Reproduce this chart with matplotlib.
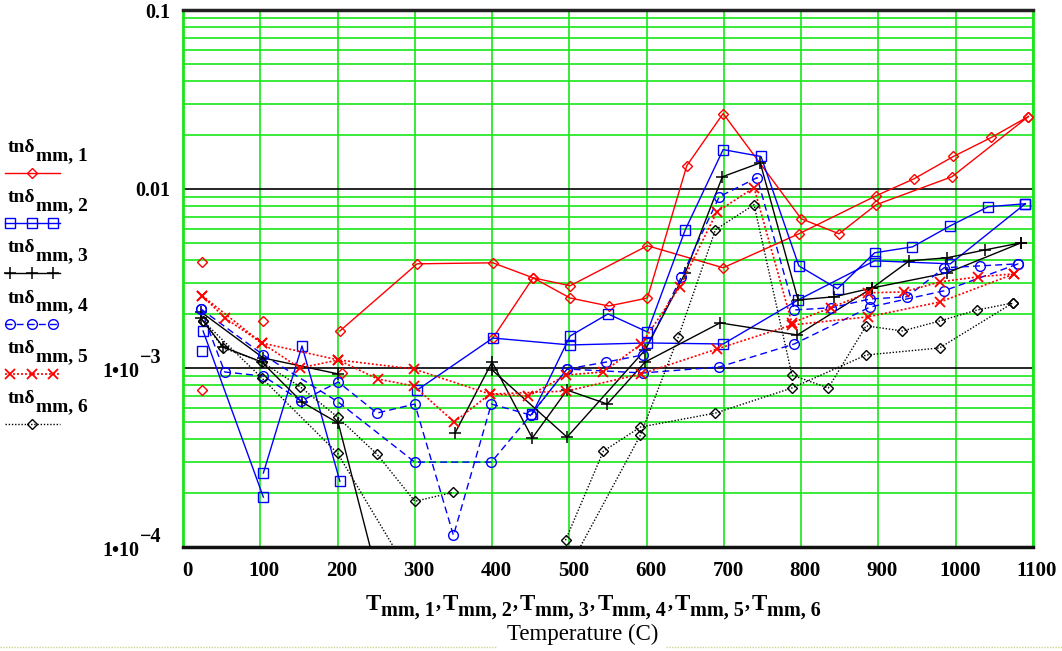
import numpy as np
import matplotlib
matplotlib.use('Agg')
import matplotlib.pyplot as plt
import matplotlib.transforms as mtransforms
from matplotlib.ticker import FixedLocator, NullFormatter

nan = np.nan

# ---------------- data (temperature in C, tan delta in units of 1e-3) -------------
T1 = [25, nan, 25, nan, 104, nan, 206, nan,
      203, 303, 401, 453, 501, 601, 699, 797, 897, 946, 997, 1046, 1094, nan,
      401, 453, 501, 551, 601, 652, 699, 800, 849, 897, 995, 1094]
D1 = [3.92, nan, 0.75, nan, 1.83, nan, 0.94, nan,
      1.61, 3.82, 3.87, 3.19, 2.88, 4.82, 3.63, 5.62, 9.17, 11.4, 15.2, 19.4, 25.4, nan,
      1.47, 3.19, 2.46, 2.22, 2.46, 13.5, 26.4, 6.82, 5.62, 8.17, 11.7, 25.4]

T2 = [26, 104, nan, 104, 154, 203, nan, 25, nan,
      303, 401, 501, 601, 699, 796, 895, 993, 1090, nan,
      452, 501, 550, 601, 650, 699, 748, 797, 847, 895, 944, 993, 1042, 1090]
D2 = [1.61, 0.190, nan, 0.259, 1.328, 0.233, nan, 1.245, nan,
      0.753, 1.47, 1.345, 1.38, 1.362, 2.40, 3.97, 3.82, 8.27, nan,
      0.553, 1.51, 2.005, 1.59, 5.92, 16.6, 15.2, 3.72, 2.77, 4.40, 4.75, 6.23, 7.96, 8.27]

T3 = [23, 104, 201, nan,
      23, 52, 102, 154, 201, 250, nan,
      352, 400, 452, 497, 549, 598, 695, 795, 892, 989, 1085, nan,
      400, 497, 598, 650, 698, 747, 796, 843, 892, 940, 989, 1038, 1085]
D3 = [2.06, 1.137, 0.926, nan,
      1.905, 1.311, 1.08, 0.645, 0.492, 0.074, nan,
      0.433, 1.08, 0.406, 0.753, 0.629, 1.08, 1.786, 1.53, 2.80, 3.40, 5.01, nan,
      0.975, 0.411, 1.26, 3.40, 11.7, 14.0, 2.40, 2.50, 2.80, 3.97, 4.13, 4.57, 5.01]

T4 = [23, 54, 104, 153, 201, 251, 300, 350, 399, 450, 497, 548, 595, 645, 694, 743,
      791, 839, 889, 937, 985, 1032, 1081, nan,
      23, 104, 201, 300, 399, 450, 497, 595, 694, 791, 889, 985, 1081]
D4 = [2.14, 0.950, 0.902, 0.654, 0.835, 0.560, 0.629, 0.116, 0.629, 0.546, 0.987, 1.08,
      1.182, 3.23, 9.06, 11.57, 2.11, 2.17, 2.43, 2.50, 3.63, 3.72, 3.82, nan,
      2.14, 1.182, 0.645, 0.298, 0.298, 0.546, 0.987, 0.938, 1.013, 1.362, 2.19, 2.70, 3.82]

T5 = [25, 54, 102, 151, 201, 252, 299, 351, 397, 447, 496, 544, 593, 643, 691, 739,
      788, 838, 886, 933, 980, 1029, 1076, nan,
      25, 102, 201, 299, 397, 496, 593, 691, 788, 886, 980, 1076]
D5 = [2.53, 1.905, 1.38, 1.0, 1.109, 0.868, 0.793, 0.499, 0.715, 0.697, 0.914, 0.950,
      1.362, 2.84, 7.46, 10.17, 1.786, 2.17, 2.63, 2.66, 3.03, 3.23, 3.36, nan,
      2.53, 1.38, 1.109, 0.987, 0.715, 0.743, 0.926, 1.277, 1.74, 1.93, 2.34, 3.36]

T6 = [26, 52, 102, 152, 200, 251, 300, 350, nan,
      26, 102, 200, 300, nan,
      495, 544, 592, 689, 788, 884, 979, 1074, nan,
      495, 592, 641, 689, 739, 788, 835, 884, 931, 979, 1028, 1074]
D6 = [1.83, 1.294, 1.08, 0.783, 0.532, 0.330, 0.180, 0.202, nan,
      1.83, 0.879, 0.334, 0.0634, nan,
      0.109, 0.343, 0.468, 0.560, 0.773, 1.182, 1.294, 2.31, nan,
      0.0704, 0.422, 1.49, 5.92, 8.17, 0.914, 0.773, 1.72, 1.61, 1.83, 2.11, 2.31]

UNIT = 1e-3
x_ticks = [0, 100, 200, 300, 400, 500, 600, 700, 800, 900, 1000, 1100]
y_ticks = [1e-4, 1e-3, 1e-2, 1e-1]
y_tick_labels = ['', '', '0.01', '0.1']
y_exp_labels = [('1\u202210', '\u22124'), ('1\u202210', '\u22123')]
legend_subs = ['mm, 1', 'mm, 2', 'mm, 3', 'mm, 4', 'mm, 5', 'mm, 6']
x_label_subs = ['mm, 1', 'mm, 2', 'mm, 3', 'mm, 4', 'mm, 5', 'mm, 6']

# ---------------- style ----------------
SERIF = 'Liberation Serif'
GREEN = '#19e619'

styles = [
    dict(color='#ff0000', ls='-', lw=1.0, marker='D', ms=4.8, mew=1.0),
    dict(color='#0000ff', ls='-', lw=1.0, marker='s', ms=7.0, mew=1.0),
    dict(color='#000000', ls='-', lw=1.0, marker='+', ms=9.0, mew=1.1),
    dict(color='#0000ff', ls=(0, (5, 3)), lw=1.0, marker='o', ms=7.0, mew=1.0),
    dict(color='#ff0000', ls=(0, (1.2, 1.2)), lw=1.2, marker='x', ms=7.5, mew=1.3),
    dict(color='#000000', ls=(0, (1.0, 1.3)), lw=1.0, marker='D', ms=4.6, mew=1.0),
]

W, H = 1062, 651
fig = plt.figure(figsize=(W / 100, H / 100), dpi=100)
ax = fig.add_axes([183 / W, (H - 547) / H, (1033 - 183) / W, (547 - 10) / H])

series = [(T1, D1), (T2, D2), (T3, D3), (T4, D4), (T5, D5), (T6, D6)]
for (t, d), st in zip(series, styles):
    ax.plot(t, np.array(d) * UNIT, color=st['color'], ls=st['ls'], lw=st['lw'],
            marker=st['marker'], ms=st['ms'], mew=st['mew'], mfc='none',
            mec=st['color'], zorder=3)

ax.set_yscale('log')
ax.set_xlim(0, 1100)
ax.set_ylim(1e-4, 0.1)
ax.set_xticks(x_ticks)
ax.set_xticklabels([str(v) for v in x_ticks])
ax.yaxis.set_major_locator(FixedLocator(y_ticks))
ax.set_yticklabels(y_tick_labels)
ax.yaxis.set_minor_locator(FixedLocator([k * 10.0 ** e for e in (-4, -3, -2) for k in range(2, 10)]))
ax.yaxis.set_minor_formatter(NullFormatter())
ax.tick_params(which='both', length=0)
ax.tick_params(axis='y', pad=9)
ax.tick_params(axis='x', pad=10)
shift = mtransforms.ScaledTranslation(4 / 100, 0, fig.dpi_scale_trans)
for lab in ax.get_xticklabels():
    lab.set_fontfamily(SERIF)
    lab.set_fontweight('bold')
    lab.set_fontsize(15)
    lab.set_transform(lab.get_transform() + shift)
for lab in ax.get_yticklabels():
    lab.set_fontfamily(SERIF)
    lab.set_fontweight('bold')
    lab.set_fontsize(14.5)

ax.set_axisbelow(True)
ax.grid(which='major', axis='x', color=GREEN, lw=1.2)
ax.grid(which='minor', axis='y', color=GREEN, lw=1.2)
ax.grid(which='major', axis='y', color='black', lw=1.2)
ax.spines['left'].set_color(GREEN)
ax.spines['right'].set_color(GREEN)
ax.spines['left'].set_linewidth(2.0)
ax.spines['right'].set_linewidth(2.0)
ax.spines['top'].set_color('#222222')
ax.spines['bottom'].set_color('#111111')
ax.spines['top'].set_linewidth(2.5)
ax.spines['bottom'].set_linewidth(2.5)

# overlay in pixel coordinates for labels, legend and decorations
ov = fig.add_axes([0, 0, 1, 1], zorder=-1)
ov.set_xlim(0, W)
ov.set_ylim(H, 0)
ov.axis('off')

bold = dict(family=SERIF, fontweight='bold')

# exponent y tick labels (1e-4 at pixel row 547, 1e-3 at 368)
for (base, sup), yline in zip(y_exp_labels, [547, 368]):
    tb = ov.text(139, yline + 9, base, ha='right', va='baseline', fontsize=14.5, **bold)
    ov.annotate(sup, xy=(1, yline - 5), xycoords=(tb, 'data'), xytext=(1, 0),
                textcoords='offset pixels', ha='left', va='baseline', fontsize=14.5, **bold)

# x-axis variable label: T_mm,1 , T_mm,2 , ...
prev = None
for i, sub in enumerate(x_label_subs):
    if prev is None:
        tT = ov.text(366, 610, 'T', ha='left', va='baseline', fontsize=16.5, **bold)
    else:
        tT = ov.annotate('T', xy=(1, 610), xycoords=(prev, 'data'), xytext=(2, 0),
                         textcoords='offset pixels', ha='left', va='baseline',
                         fontsize=16.5, **bold)
    ts = ov.annotate(sub, xy=(1, 616), xycoords=(tT, 'data'), ha='left', va='baseline',
                     fontsize=14.5, **bold)
    prev = ts
    if i < len(x_label_subs) - 1:
        tc = ov.annotate(',', xy=(1, 608), xycoords=(ts, 'data'), xytext=(1, 0),
                         textcoords='offset pixels', ha='left', va='baseline',
                         fontsize=14.5, **bold)
        prev = tc

ov.text(583, 634, 'Temperature (C)', family=SERIF, fontsize=16.5, ha='center', va='center')
ov.plot([0, 497], [647, 647], color='#c9d88e', lw=1.0, ls=(0, (1, 1)))
ov.plot([666, W], [647, 647], color='#c9d88e', lw=1.0, ls=(0, (1, 1)))

# legend
for i, st in enumerate(styles):
    yb = 152 + 50.2 * i
    ys = 173 + 50.2 * i
    t = ov.text(8, yb, 'tn\u03b4', ha='left', va='baseline', fontsize=14, **bold)
    ov.annotate(legend_subs[i], xy=(1, yb + 8), xycoords=(t, 'data'),
                ha='left', va='baseline', fontsize=14, **bold)
    ov.plot([5, 60], [ys, ys], color=st['color'], ls=st['ls'], lw=st['lw'])
    mx = [32] if st['marker'] == 'D' else [10, 32, 53]
    ov.plot(mx, [ys] * len(mx), ls='none', marker=st['marker'], ms=st['ms'],
            mew=st['mew'], mfc='none', mec=st['color'])

fig.savefig('out.png', dpi=100)
